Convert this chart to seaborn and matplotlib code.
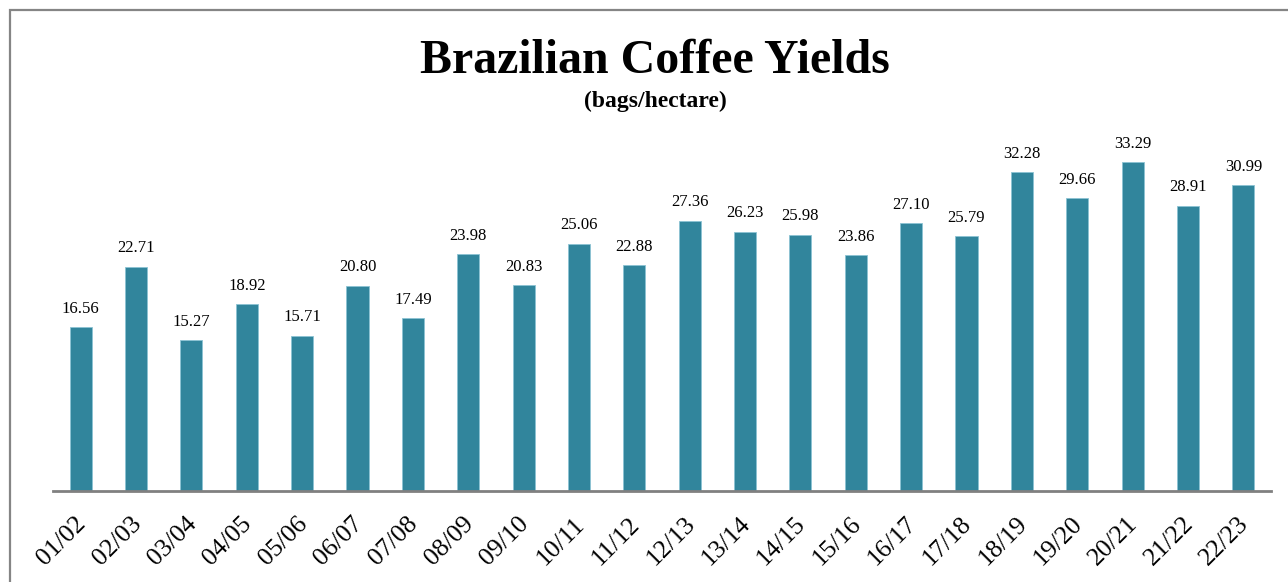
import matplotlib
matplotlib.use("Agg")
import matplotlib.pyplot as plt
import matplotlib.transforms as mtransforms
import seaborn as sns
import pandas as pd
from matplotlib.patches import Rectangle

seasons = ["01/02", "02/03", "03/04", "04/05", "05/06", "06/07", "07/08", "08/09",
           "09/10", "10/11", "11/12", "12/13", "13/14", "14/15", "15/16", "16/17",
           "17/18", "18/19", "19/20", "20/21", "21/22", "22/23"]
yields = [16.56, 22.71, 15.27, 18.92, 15.71, 20.80, 17.49, 23.98,
          20.83, 25.06, 22.88, 27.36, 26.23, 25.98, 23.86, 27.10,
          25.79, 32.28, 29.66, 33.29, 28.91, 30.99]

title = "Brazilian Coffee Yields"
subtitle = "(bags/hectare)"

sns.set_theme(style="white")
plt.rcParams["font.family"] = ["Liberation Serif", "DejaVu Serif"]

W, H = 1288, 582
fig = plt.figure(figsize=(W / 100, H / 100), dpi=100)
fig.patch.set_facecolor("white")

left, right, base_y = 53, 1271, 490.7
px_per_unit = 9.86
ymax = 36
top_y = base_y - ymax * px_per_unit
ax = fig.add_axes([left / W, (H - base_y) / H, (right - left) / W, (base_y - top_y) / H])

df = pd.DataFrame({"season": seasons, "yield": yields})
sns.barplot(data=df, x="season", y="yield", ax=ax, color="#31859C", saturation=1,
            width=0.4, edgecolor="#8cc3d3", linewidth=0.6)

ax.set_xlim(-0.5, len(seasons) - 0.5)
ax.set_ylim(0, ymax)
ax.set_xlabel("")
ax.set_ylabel("")
ax.set_yticks([])
for s in ["top", "right", "left"]:
    ax.spines[s].set_visible(False)
ax.spines["bottom"].set_color("#808080")
ax.spines["bottom"].set_linewidth(2.0)
ax.tick_params(axis="x", length=0, pad=16)
ax.set_facecolor("none")
shift = mtransforms.ScaledTranslation(-6 / 100, 0, fig.dpi_scale_trans)
for lbl in ax.get_xticklabels():
    lbl.set_rotation(45)
    lbl.set_ha("right")
    lbl.set_rotation_mode("anchor")
    lbl.set_fontsize(18.5)
    lbl.set_color("black")
    lbl.set_transform(lbl.get_transform() + shift)

for i, v in enumerate(yields):
    ax.annotate(f"{v:.2f}", (i, v), xytext=(0, 10.5), textcoords="offset points",
                ha="center", va="baseline", fontsize=12, color="black")

fig.text(655 / W, 1 - 73 / H, title, ha="center", va="baseline",
         fontsize=34.5, fontweight="bold", color="black")
fig.text(655 / W, 1 - 107 / H, subtitle, ha="center", va="baseline",
         fontsize=17, fontweight="bold", color="black")

fig.patches.append(Rectangle((9.5 / W, -0.05), 1.2, 1 - 9.5 / H + 0.05,
                             transform=fig.transFigure, fill=False,
                             edgecolor="#858585", linewidth=1.6))

fig.savefig("out.png", dpi=100, facecolor="white")
